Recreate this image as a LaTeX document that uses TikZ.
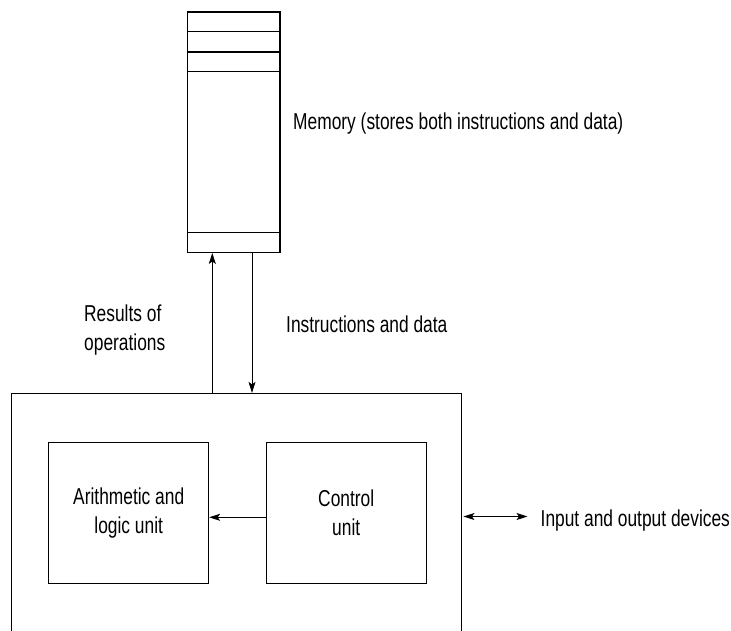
\documentclass[tikz,border=0pt]{standalone}
\usepackage{fontspec}
\setmainfont{Liberation Sans}[FakeStretch=0.755]
\usetikzlibrary{arrows.meta}

\begin{document}
\begin{tikzpicture}[
  x=1pt, y=-1pt,
  every node/.style={inner sep=0pt, font=\fontsize{23}{29}\selectfont},
  unit/.style={draw, line width=0.9pt, minimum width=160pt, minimum height=140.6pt, align=center},
  arr/.style={line width=0.9pt, -{Stealth[length=11pt,width=7pt,inset=2.5pt]}},
  dbl/.style={line width=0.9pt, {Stealth[length=11pt,width=7pt,inset=2.5pt]}-{Stealth[length=11pt,width=7pt,inset=2.5pt]}}
]
\useasboundingbox (0,0) rectangle (731,630);
\clip (0,0) rectangle (731,630);

% memory with its cells
\node[draw, line width=1.3pt, minimum width=92.7pt, minimum height=240.3pt] (mem) at (233.65,132.15) {};
\foreach \y in {31.7,52,71.7,232.3}
  \draw[line width=1.3pt] (mem.west |- 0,\y) -- (mem.east |- 0,\y);
\node[anchor=base west] (memlbl) at (293,129.3) {Memory (stores both instructions and data)};

% processor
\node[draw, line width=0.9pt, minimum width=450.5pt, minimum height=266.7pt] (cpu) at (236.25,526.65) {};
\node[unit] (alu) at (128.7,513) {Arithmetic and\\logic unit};
\node[unit] (ctl) at (346.2,513) {Control\\unit};
\draw[arr] ([yshift=-4.3pt]ctl.west) -- ([yshift=-4.3pt]alu.east);

% memory traffic
\coordinate (up) at (212.3,0);
\coordinate (dn) at (252,0);
\draw[arr] (cpu.north -| up) -- (mem.south -| up);
\draw[arr] (mem.south -| dn) -- (cpu.north -| dn);
\node[anchor=north west, align=left] (reslbl) at (84,305) {Results of\\operations};
\node[anchor=base west] (inslbl) at (286,332.3) {Instructions and data};

% input and output
\node[anchor=base west] (iolbl) at (540.5,526) {Input and output devices};
\draw[dbl] ([xshift=1.5pt]cpu.east |- 0,516.5) -- ([xshift=-13pt]iolbl.west |- 0,516.5);
\end{tikzpicture}
\end{document}
